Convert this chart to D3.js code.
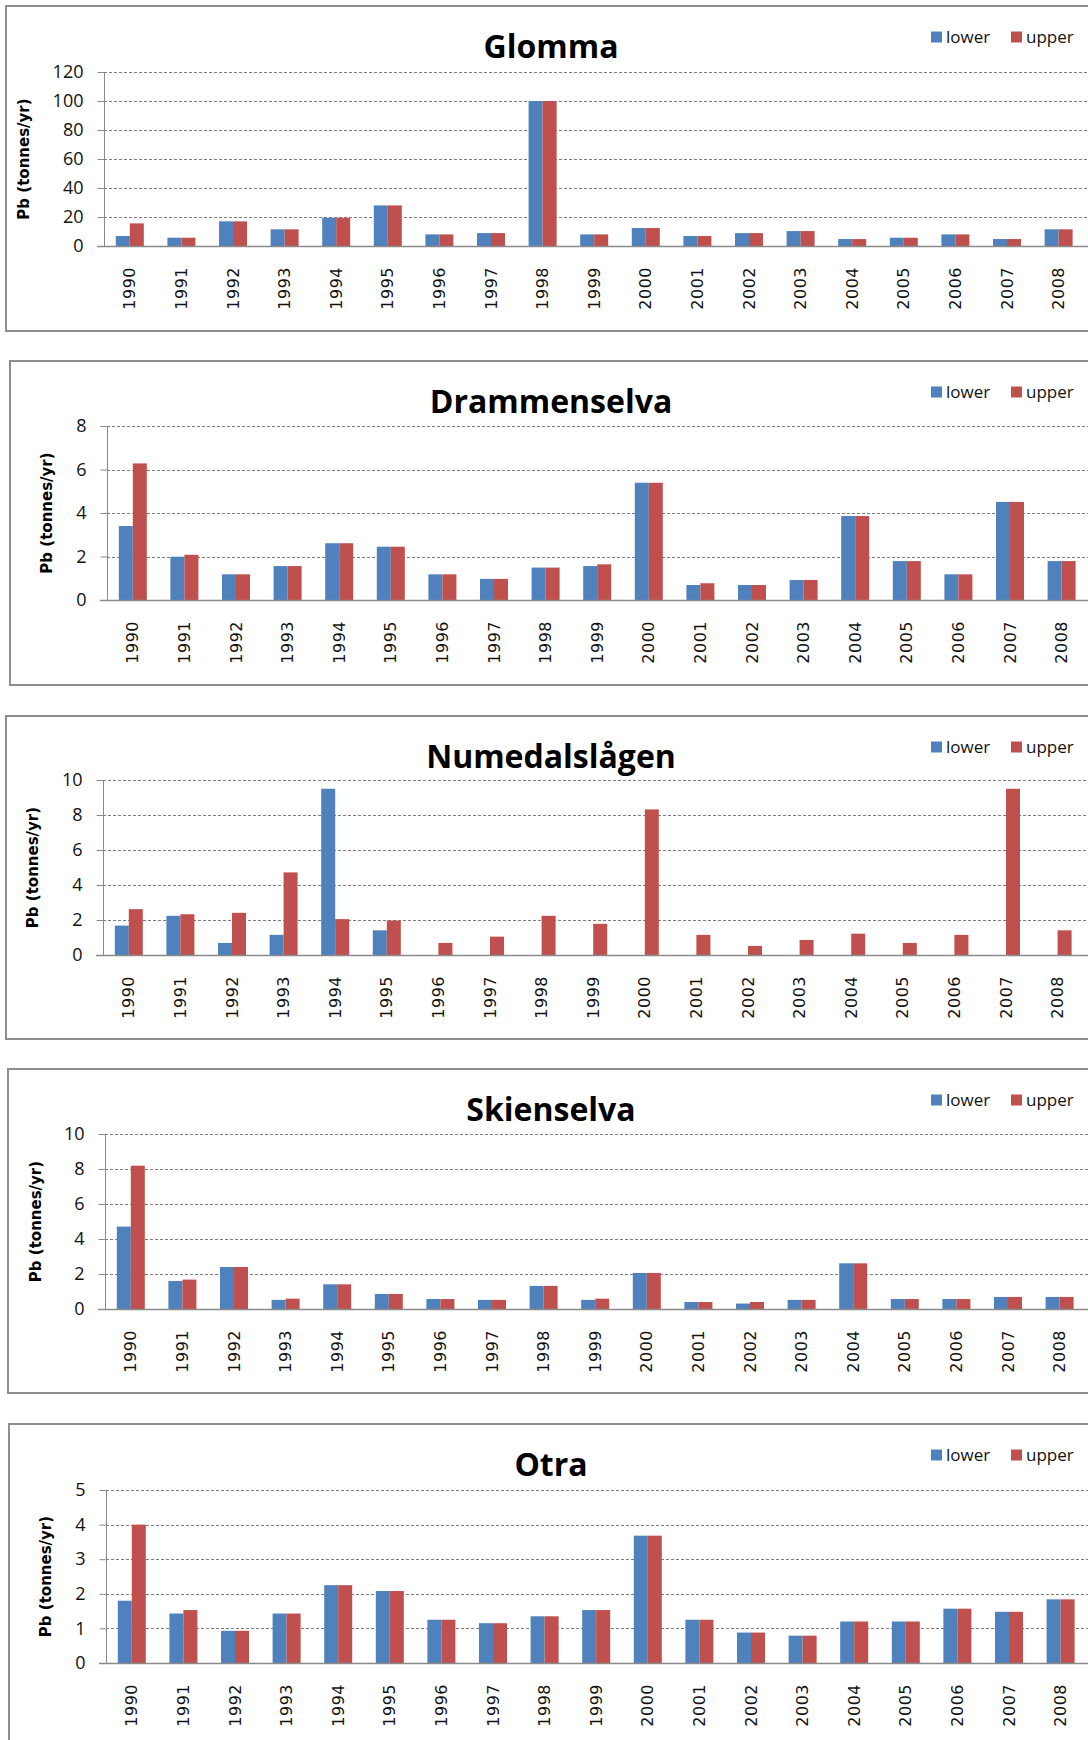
<!DOCTYPE html>
<html>
<head>
<meta charset="utf-8">
<script src="https://cdn.jsdelivr.net/npm/d3@7/dist/d3.min.js"></script>
<style>
  body { margin: 0; background: #fff; }
  svg { display: block; }
</style>
</head>
<body>
<svg id="chart" width="1088" height="1740"></svg>
<script>
// ---- data: annual lead (Pb) loads, tonnes/yr, lower and upper estimates ----
const years = ["1990","1991","1992","1993","1994","1995","1996","1997","1998","1999",
               "2000","2001","2002","2003","2004","2005","2006","2007","2008"];
const seriesNames = ["lower", "upper"];
const seriesColors = ["#4F81BD", "#C0504D"];

const rivers = ["Glomma", "Drammenselva", "Numedalslågen", "Skienselva", "Otra"];

const glommaLower = [6.9, 5.7, 17.0, 11.5, 19.5, 28.0, 8.0, 8.9, 100, 8.0, 12.4, 6.9, 8.9, 10.3, 4.8, 5.7, 8.0, 4.8, 11.5];
const glommaUpper = [15.6, 5.7, 17.0, 11.5, 19.5, 28.0, 8.0, 8.9, 100, 8.0, 12.4, 6.9, 8.9, 10.3, 4.8, 5.7, 8.0, 4.8, 11.5];

const drammenLower = [3.40, 1.99, 1.18, 1.56, 2.61, 2.45, 1.18, 0.97, 1.49, 1.56, 5.39, 0.69, 0.69, 0.92, 3.86, 1.79, 1.18, 4.51, 1.79];
const drammenUpper = [6.28, 2.08, 1.18, 1.56, 2.61, 2.45, 1.18, 0.97, 1.49, 1.64, 5.39, 0.77, 0.69, 0.92, 3.86, 1.79, 1.18, 4.51, 1.79];

const numedalLower = [1.68, 2.24, 0.69, 1.15, 9.50, 1.41, 0, 0, 0, 0, 0, 0, 0, 0, 0, 0, 0, 0, 0];
const numedalUpper = [2.62, 2.33, 2.41, 4.72, 2.05, 1.97, 0.69, 1.05, 2.24, 1.78, 8.32, 1.15, 0.52, 0.86, 1.22, 0.69, 1.15, 9.50, 1.41];

const skienLower = [4.71, 1.60, 2.40, 0.52, 1.41, 0.86, 0.57, 0.52, 1.32, 0.52, 2.06, 0.40, 0.31, 0.52, 2.61, 0.57, 0.57, 0.69, 0.69];
const skienUpper = [8.19, 1.68, 2.40, 0.59, 1.41, 0.86, 0.57, 0.52, 1.32, 0.59, 2.06, 0.40, 0.40, 0.52, 2.61, 0.57, 0.57, 0.69, 0.69];

const otraLower = [1.80, 1.43, 0.93, 1.43, 2.25, 2.08, 1.25, 1.15, 1.35, 1.53, 3.68, 1.25, 0.88, 0.79, 1.20, 1.20, 1.57, 1.48, 1.84];
const otraUpper = [4.00, 1.53, 0.93, 1.43, 2.25, 2.08, 1.25, 1.15, 1.35, 1.53, 3.68, 1.25, 0.88, 0.79, 1.20, 1.20, 1.57, 1.48, 1.84];

const axisMax  = [120, 8, 10, 10, 5];
const axisStep = [20, 2, 2, 2, 1];
const yAxisTitle = "Pb (tonnes/yr)";

const panelData = [
  [glommaLower, glommaUpper],
  [drammenLower, drammenUpper],
  [numedalLower, numedalUpper],
  [skienLower, skienUpper],
  [otraLower, otraUpper]
];

// ---- layout of the five stacked panels ----
const layout = [
  { bx: 6,  by: 6,    bh: 325, ax: 104, top: 72,   zero: 246,  tx: 24 },
  { bx: 10, by: 361,  bh: 324, ax: 107, top: 426,  zero: 600,  tx: 47 },
  { bx: 6,  by: 716,  bh: 323, ax: 103, top: 780,  zero: 955,  tx: 33 },
  { bx: 8,  by: 1069, bh: 324, ax: 105, top: 1134, zero: 1309, tx: 36 },
  { bx: 9,  by: 1424, bh: 340, ax: 106, top: 1490, zero: 1663, tx: 46 }
];
const slot = 51.6;
const groupWidth = 28;
const uiFont = "'Open Sans', 'Noto Sans', sans-serif";
const yearFont = "'DejaVu Sans', Verdana, sans-serif";

const svg = d3.select("#chart");

rivers.forEach((name, i) => {
  const L = layout[i];
  const g = svg.append("g").attr("class", "panel");

  // panel frame
  g.append("rect")
    .attr("x", L.bx).attr("y", L.by)
    .attr("width", 1120 - L.bx).attr("height", L.bh)
    .attr("fill", "#fff")
    .attr("stroke", "#8e8e8e").attr("stroke-width", 2);

  const x = d3.scaleBand()
    .domain(years)
    .range([L.ax, L.ax + slot * years.length])
    .paddingInner(1 - groupWidth / slot)
    .paddingOuter((1 - groupWidth / slot) / 2);
  const xs = d3.scaleBand().domain(seriesNames).range([0, x.bandwidth()]);
  const y = d3.scaleLinear().domain([0, axisMax[i]]).range([L.zero, L.top]);
  const ticks = d3.range(0, axisMax[i] + axisStep[i] / 2, axisStep[i]);

  // dashed horizontal gridlines
  g.append("g").selectAll("line")
    .data(ticks.filter(t => t > 0))
    .join("line")
    .attr("x1", L.ax).attr("x2", 1088)
    .attr("y1", d => Math.round(y(d)) + 0.5).attr("y2", d => Math.round(y(d)) + 0.5)
    .attr("stroke", "#7c7c7c").attr("stroke-width", 1)
    .attr("stroke-dasharray", "3,2");

  // bars
  const rows = years.map((yr, k) => ({ yr, vals: seriesNames.map((s, j) => ({ s, j, v: panelData[i][j][k] })) }));
  g.append("g").selectAll("g")
    .data(rows)
    .join("g")
    .attr("transform", d => `translate(${x(d.yr)},0)`)
    .selectAll("rect")
    .data(d => d.vals.filter(o => o.v > 0))
    .join("rect")
    .attr("x", o => xs(o.s))
    .attr("width", xs.bandwidth())
    .attr("y", o => y(o.v))
    .attr("height", o => y(0) - y(o.v))
    .attr("fill", o => seriesColors[o.j]);

  // value axis
  const yAxis = d3.axisLeft(y).tickValues(ticks).tickSize(7).tickPadding(14).tickFormat(d3.format("d"));
  const ya = g.append("g").attr("transform", `translate(${L.ax + 0.5},0)`).call(yAxis);
  ya.select(".domain").attr("stroke", "#8a8a8a").attr("d", `M0,${y(axisMax[i])}V${y(0)}`);
  ya.selectAll(".tick line").attr("stroke", "#8a8a8a");
  ya.selectAll(".tick text")
    .attr("font-family", uiFont).attr("font-size", 18).attr("fill", "#111");

  // category axis
  g.append("line")
    .attr("x1", L.ax - 7).attr("x2", 1088)
    .attr("y1", L.zero + 0.5).attr("y2", L.zero + 0.5)
    .attr("stroke", "#8a8a8a").attr("stroke-width", 1.5);

  g.append("g").selectAll("text")
    .data(years)
    .join("text")
    .attr("transform", d => `translate(${x(d) + x.bandwidth() / 2 + 5.5},${L.zero + 21}) rotate(-90)`)
    .attr("text-anchor", "end")
    .attr("font-family", yearFont).attr("font-size", 16).attr("fill", "#111")
    .attr("letter-spacing", 0.5)
    .text(d => d);

  // value axis title
  g.append("text")
    .attr("transform", `translate(${L.tx + 5},${(L.top + L.zero) / 2}) rotate(-90)`)
    .attr("text-anchor", "middle")
    .attr("font-family", yearFont).attr("font-weight", "bold").attr("font-size", 15)
    .attr("fill", "#000")
    .text(yAxisTitle);

  // chart title
  g.append("text")
    .attr("x", 551).attr("y", L.by + 52)
    .attr("text-anchor", "middle")
    .attr("font-family", uiFont).attr("font-weight", "bold").attr("font-size", 32)
    .attr("fill", "#000")
    .text(name);

  // legend
  const lg = g.append("g").attr("transform", `translate(931,${L.by + 31})`);
  seriesNames.forEach((s, j) => {
    const item = lg.append("g").attr("transform", `translate(${j * 80},0)`);
    item.append("rect").attr("x", 0).attr("y", -5.5).attr("width", 11).attr("height", 11)
      .attr("fill", seriesColors[j]);
    item.append("text").attr("x", 15).attr("y", 0).attr("dy", "0.35em")
      .attr("font-family", uiFont).attr("font-size", 17).attr("fill", "#111")
      .text(s);
  });
});
</script>
</body>
</html>
